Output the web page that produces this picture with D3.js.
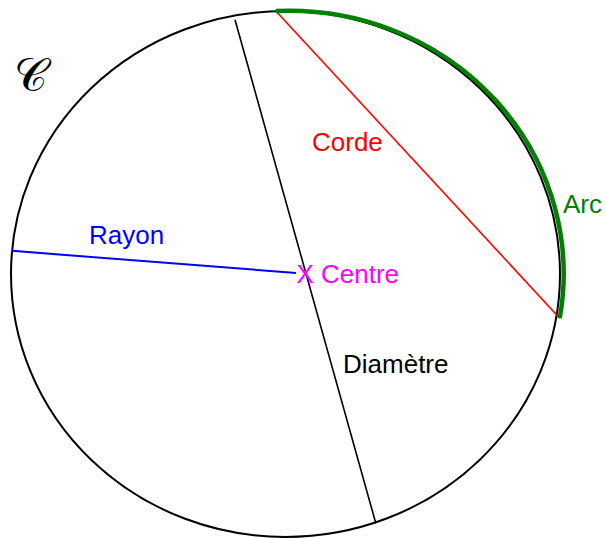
<!DOCTYPE html>
<html>
<head>
<meta charset="utf-8">
<script src="https://cdn.jsdelivr.net/npm/d3@7"></script>
<style>
  body { margin: 0; background: #fff; }
  text { font-family: "Liberation Sans", Arial, sans-serif; }
</style>
</head>
<body>
<script>
// points are given in circle units: (0,0) is the middle, the rim is at 1
const diameterPts = [[-0.184, 0.967], [0.329, -0.948]];
const radiusPts = [[-0.996, 0.088], [0.038, 0.004]];
const chordPts = [[-0.035, 1.0], [0.999, -0.168]];
const arcPts = [[-0.035, 1.0], [0.999, -0.168]];

const labelNames = ["Corde", "Rayon", "X Centre", "Diamètre", "Arc"];
const labelColors = ["#ff0000", "#0000ff", "#ff00ff", "#000000", "#008000"];
const labelAt = [[0.0965, 0.468], [-0.716, 0.114], [0.040, -0.034], [0.2095, -0.378], [1.011, 0.232]];

const circleName = "𝒞";
const circleNameAt = [-0.99, 0.695];

function draw() {
	let width = 606,
		height = 538;

	// unit circle -> screen (slightly squashed, like the picture)
	let x = d3.scaleLinear().domain([-1, 1]).range([11, 560]);
	let y = d3.scaleLinear().domain([-1, 1]).range([537, 11]);

	let svg = d3
		.select("body")
		.append("svg")
		.attr("width", width)
		.attr("height", height);

	// the circle itself
	svg
		.append("ellipse")
		.attr("cx", x(0))
		.attr("cy", y(0))
		.attr("rx", x(1) - x(0))
		.attr("ry", y(0) - y(1))
		.attr("fill", "none")
		.attr("stroke", "#000")
		.attr("stroke-width", 2);

	let seg = d3
		.line()
		.x((d) => x(d[0]))
		.y((d) => y(d[1]));

	svg.append("path").attr("d", seg(diameterPts)).attr("stroke", "#000").attr("stroke-width", 1.6).attr("fill", "none");
	svg.append("path").attr("d", seg(radiusPts)).attr("stroke", "#0000ff").attr("stroke-width", 2).attr("fill", "none");
	svg.append("path").attr("d", seg(chordPts)).attr("stroke", "#ff0000").attr("stroke-width", 1.6).attr("fill", "none");

	// arc between the two ends of the chord
	let rx = x(1) - x(0),
		ry = y(0) - y(1);
	let a0 = arcPts[0],
		a1 = arcPts[1];
	svg
		.append("path")
		.attr(
			"d",
			"M" + x(a0[0]) + "," + y(a0[1]) +
			" A" + rx + "," + ry + " 0 0 1 " + x(a1[0]) + "," + y(a1[1])
		)
		.attr("fill", "none")
		.attr("stroke", "#008000")
		.attr("stroke-width", 4.5);

	// labels
	svg
		.selectAll("text.lbl")
		.data(labelNames)
		.enter()
		.append("text")
		.attr("class", "lbl")
		.attr("x", (d, i) => x(labelAt[i][0]))
		.attr("y", (d, i) => y(labelAt[i][1]))
		.attr("fill", (d, i) => labelColors[i])
		.style("font-size", "26px")
		.text((d) => d);

	svg
		.append("text")
		.attr("x", x(circleNameAt[0]))
		.attr("y", y(circleNameAt[1]))
		.style("font-family", "'DejaVu Serif', serif")
		.style("font-size", "46px")
		.style("font-weight", "300")
		.text(circleName);
}

window.addEventListener("load", draw);
</script>
</body>
</html>
